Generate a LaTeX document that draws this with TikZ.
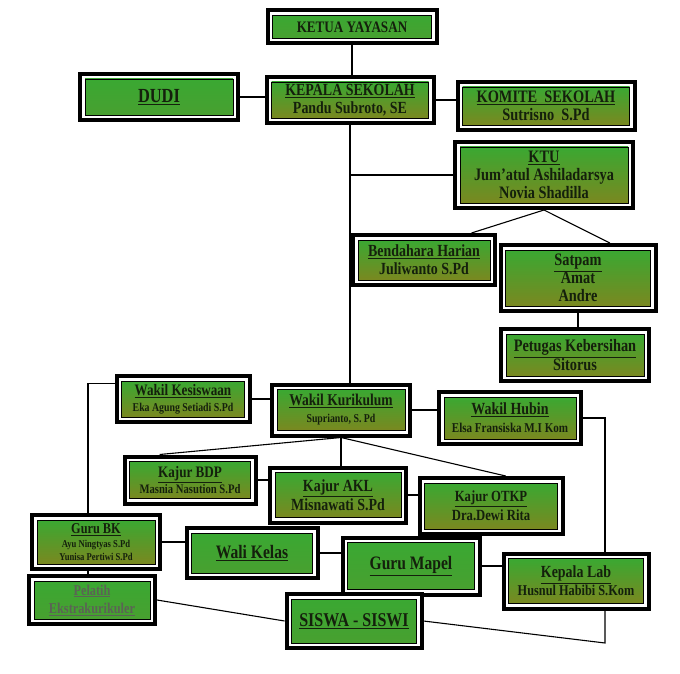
\documentclass[tikz,border=0pt]{standalone}
\usepackage{fontspec}
\setmainfont{Liberation Serif}[FakeStretch=0.82]
\usetikzlibrary{calc}
%
\definecolor{hijauatas}{RGB}{58,168,50}
\definecolor{hijaubawah}{RGB}{122,136,32}
\definecolor{hijauterang}{RGB}{72,160,48}
\definecolor{tinta}{RGB}{20,32,12}
\newcommand{\judul}[1]{\underline{#1}}
\newcommand{\ukuran}[2]{\fontsize{#1}{#2}\selectfont}
%
\begin{document}
\begin{tikzpicture}[
	x=1pt, y=-1pt,% Pixelkoordinaten, y nach unten
	kotak/.style={
		preaction={draw=black, line width=14pt},
		preaction={draw=white, line width=6pt},
		draw=black, line width=0.8pt,
		top color=hijauatas, bottom color=hijaubawah,
		text=tinta, align=center,
		inner sep=1pt, outer sep=7pt},
	kotakhijau/.style={kotak, bottom color=hijauterang},
	teks/.style 2 args={font=\bfseries\ukuran{#1}{#2}},
	garis/.style={line width=1.1pt}
]
\useasboundingbox[fill=white] (0,0) rectangle (680,674);
%
% Pimpinan
\node(ketua)%
    [kotakhijau, teks={16}{18}, minimum width=159pt, minimum height=23pt]%
    at (352,27)%
    {KETUA YAYASAN};%
\node(dudi)%
    [kotakhijau, teks={20}{22}, minimum width=148pt, minimum height=36pt]%
    at (159,97)%
    {\judul{DUDI}};%
\node(kepsek)%
    [kotak, teks={17}{18}, minimum width=157pt, minimum height=36pt]%
    at (350,100)%
    {\judul{KEPALA SEKOLAH}\\Pandu Subroto, SE};%
\node(komite)%
    [kotak, teks={17.5}{18}, minimum width=167pt, minimum height=38pt]%
    at (546,106)%
    {\judul{KOMITE\ \ SEKOLAH}\\Sutrisno\ \ S.Pd};%
%
% Tata usaha
\node(ktu)%
    [kotak, teks={17.5}{18}, minimum width=168pt, minimum height=56pt]%
    at (544,175)%
    {\judul{KTU}\\Jum’atul Ashiladarsya\\Novia Shadilla};%
\node(bendahara)%
    [kotak, teks={17}{18}, minimum width=132pt, minimum height=40pt]%
    at (424,260)%
    {\judul{Bendahara Harian}\\Juliwanto S.Pd};%
\node(satpam)%
    [kotak, teks={17.5}{18}, minimum width=145pt, minimum height=56pt]%
    at (578,278)%
    {\judul{Satpam}\\Amat\\Andre};%
\node(petugas)%
    [kotak, teks={17.5}{18}, minimum width=138pt, minimum height=42pt]%
    at (575,355)%
    {\judul{Petugas Kebersihan}\\Sitorus};%
%
% Wakil
\node(kesiswaan)%
    [kotak, teks={16}{16}, minimum width=123pt, minimum height=36pt]%
    at (183,399)%
    {\judul{Wakil Kesiswaan}\\\ukuran{12}{16}Eka Agung Setiadi S.Pd};%
\node(wakakur)%
    [kotak, teks={16.5}{17}, minimum width=128pt, minimum height=41pt]%
    at (341,410)%
    {\judul{Wakil Kurikulum}\\\ukuran{12}{17}Suprianto, S. Pd};%
\node(hubin)%
    [kotak, teks={17}{18}, minimum width=132pt, minimum height=42pt]%
    at (510,418)%
    {\judul{Wakil Hubin}\\\ukuran{13.5}{18}Elsa Fransiska M.I Kom};%
%
% Kajur
\node(bdp)%
    [kotak, teks={16}{16}, minimum width=121pt, minimum height=37pt]%
    at (190,480)%
    {\judul{Kajur BDP}\\\ukuran{13}{16}Masnia Nasution S.Pd};%
\node(akl)%
    [kotak, teks={17}{19}, minimum width=126pt, minimum height=45pt]%
    at (338,495)%
    {\judul{Kajur AKL}\\Misnawati S.Pd};%
\node(otkp)%
    [kotak, teks={15.5}{19}, minimum width=133pt, minimum height=46pt]%
    at (491,506)%
    {\judul{Kajur OTKP}\\Dra.Dewi Rita};%
%
% Guru dan siswa
\node(gurubk)%
    [kotak, teks={15}{13}, minimum width=118pt, minimum height=44pt]%
    at (96,542)%
    {\judul{Guru BK}\\[1pt]\ukuran{10.5}{13}Ayu Ningtyas S.Pd\\\ukuran{10.5}{13}Yunisa Pertiwi S.Pd};%
\node(walikelas)%
    [kotakhijau, teks={19}{21}, minimum width=121pt, minimum height=40pt]%
    at (252,553)%
    {\judul{Wali Kelas}};%
\node(mapel)%
    [kotakhijau, teks={19}{21}, minimum width=127pt, minimum height=47pt]%
    at (411,566)%
    {\judul{Guru Mapel}};%
\node(kalab)%
    [kotak, teks={17}{18}, minimum width=135pt, minimum height=45pt]%
    at (576,581)%
    {\judul{Kepala Lab}\\\ukuran{15}{18}Husnul Habibi S.Kom};%
\node(pelatih)%
    [kotakhijau, teks={15}{18}, minimum width=116pt, minimum height=38pt, text=tinta!70]%
    at (92,600)%
    {\judul{Pelatih}\\\judul{Ekstrakurikuler}};%
\node(siswa)%
    [kotakhijau, teks={19.5}{21}, minimum width=125pt, minimum height=44pt]%
    at (354,621)%
    {\judul{SISWA - SISWI}};%
%
\coordinate(pojok) at (605,643);%
%
% Garis
\draw[garis] (ketua.south) -- (ketua.south |- kepsek.north);
\draw[garis] (dudi.east) -- (dudi.east -| kepsek.west);
\draw[garis] (kepsek.east) -- (kepsek.east -| komite.west);
\draw[garis] (kepsek.south) -- (kepsek.south |- wakakur.north);
\draw[garis] (kepsek.south |- ktu.west) -- (ktu.west);
\draw[garis] (ktu.south) -- ($(bendahara.north)!.65!(bendahara.north east)$);
\draw[garis] (ktu.south) -- ($(satpam.north)!.4!(satpam.north east)$);
\draw[garis] (satpam.south) -- (satpam.south |- petugas.north);
%
\draw[garis] (kesiswaan.east) -- (kesiswaan.east -| wakakur.west);
\draw[garis] (wakakur.east) -- (wakakur.east -| hubin.west);
\draw[garis] (wakakur.south) -- ($(bdp.north)!.45!(bdp.north west)$);
\draw[garis] (wakakur.south) -- (wakakur.south |- akl.north);
\draw[garis] (wakakur.south) -- ($(otkp.north)!.2!(otkp.north east)$);
\draw[garis] (bdp.east) -- (bdp.east -| akl.west);
\draw[garis] (akl.east) -- (akl.east -| otkp.west);
%
\draw[garis] (kesiswaan.167) -| ([xshift=-8pt]gurubk.north);
\draw[garis] ([xshift=-8pt]gurubk.south) -- ([xshift=-8pt]gurubk.south |- pelatih.north);
\draw[garis] (hubin.east) -| (pojok |- kalab.north);
\draw[garis] (pojok |- kalab.south) -- (pojok) -- (siswa.east);
\draw[garis] (gurubk.east) -- (gurubk.east -| walikelas.west);
\draw[garis] (walikelas.east) -- (walikelas.east -| mapel.west);
\draw[garis] (mapel.east) -- (mapel.east -| kalab.west);
\draw[garis] (pelatih.east) -- (siswa.west);
%
\end{tikzpicture}
\end{document}
